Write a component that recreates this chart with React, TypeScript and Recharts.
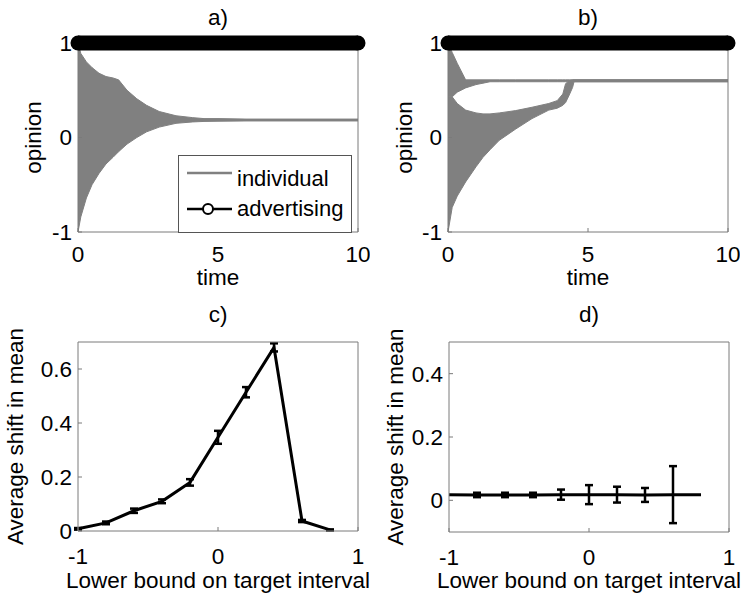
import React from 'react';
import { ComposedChart, Area, Line, XAxis, YAxis, ErrorBar, Legend } from 'recharts';

const FONT = '"Liberation Sans", Arial, Helvetica, sans-serif';
const BOX = '#7a7a7a';
const TRAJ = '#808080';
const FS = 22.5;

// a) envelope of the individual opinion trajectories
const timeA = [0, 0.1, 0.3, 0.5, 0.75, 1, 1.25, 1.45, 1.75, 2.1, 2.45, 2.9, 3.5, 4.1, 4.5, 5, 6, 10];
const upperA = [1, 0.89, 0.8, 0.74, 0.68, 0.645, 0.63, 0.61, 0.5, 0.41, 0.34, 0.275, 0.23, 0.21, 0.2, 0.2, 0.195, 0.195];
const lowerA = [-1, -0.84, -0.64, -0.5, -0.38, -0.28, -0.21, -0.15, -0.07, 0, 0.06, 0.11, 0.15, 0.165, 0.17, 0.172, 0.175, 0.175];

// b) two groups of individuals: one pulled to the advertising cluster at once, one later
const timeB = [0, 0.15, 0.33, 0.63, 1, 1.25, 1.5, 1.83, 2.42, 3, 3.6, 3.9, 4.1, 4.2, 4.33, 4.45, 4.5, 5, 6, 10];
const clusterHiB = [1, 0.9, 0.785, 0.61, 0.61, 0.61, 0.61, 0.61, 0.61, 0.61, 0.61, 0.61, 0.61, 0.61, 0.61, 0.61, 0.61, 0.61, 0.61, 0.61];
const clusterLoB = [0.43, 0.43, 0.48, 0.525, 0.56, 0.575, 0.59, 0.59, 0.59, 0.59, 0.59, 0.59, 0.59, 0.59, 0.59, 0.59, 0.59, 0.59, 0.59, 0.59];
const restHiB = [0.43, 0.43, 0.36, 0.29, 0.26, 0.25, 0.25, 0.26, 0.285, 0.32, 0.36, 0.39, 0.46, 0.57, 0.6, 0.61, 0.61, 0.61, 0.61, 0.61];
const restLoB = [-1, -0.74, -0.62, -0.47, -0.31, -0.21, -0.13, -0.03, 0.09, 0.2, 0.29, 0.31, 0.34, 0.37, 0.45, 0.53, 0.59, 0.59, 0.59, 0.59];

const advertisingLevel = 1;

// c) and d) shift in mean vs lower bound of target interval
const lowerBounds = [-1, -0.8, -0.6, -0.4, -0.2, 0, 0.2, 0.4, 0.6, 0.8];
const shiftC = [0.008, 0.03, 0.075, 0.11, 0.18, 0.347, 0.514, 0.68, 0.037, 0.004];
const errC = [0.003, 0.005, 0.008, 0.007, 0.012, 0.024, 0.019, 0.015, 0.004, 0.002];
const shiftD = [0.018, 0.017, 0.017, 0.017, 0.018, 0.018, 0.018, 0.017, 0.018, 0.018];
const errD = [0, 0.007, 0.007, 0.007, 0.016, 0.03, 0.025, 0.022, 0.09, 0];

const timeTicks = [0, 5, 10];
const opinionTicks = [-1, 0, 1];
const boundTicks = [-1, 0, 1];
const shiftTicksC = [0, 0.2, 0.4, 0.6];
const shiftTicksD = [0, 0.2, 0.4];

const dataA = timeA.map((t, i) => ({ t, band: [lowerA[i], upperA[i]], adv: advertisingLevel }));
const dataB = timeB.map((t, i) => ({
  t,
  cluster: [clusterLoB[i], clusterHiB[i]],
  rest: [restLoB[i], restHiB[i]],
  adv: advertisingLevel,
}));
const dataC = lowerBounds.map((x, i) => ({ x, y: shiftC[i], err: errC[i] }));
const dataD = lowerBounds.map((x, i) => ({ x, y: shiftD[i], err: errD[i] }));

const tickStyle = { fill: '#000', fontSize: FS, fontFamily: FONT };
const labelStyle = { fill: '#000', fontSize: FS, fontFamily: FONT };

const LegendA = () => (
  <svg width={175} height={79} style={{ display: 'block' }}>
    <rect x={0.5} y={0.5} width={173} height={77} fill="#fff" stroke="#555" />
    <line x1={9} x2={54} y1={18} y2={18} stroke={TRAJ} strokeWidth={2.5} />
    <text x={59} y={31} style={{ ...labelStyle, fontSize: 22 }}>individual</text>
    <line x1={9} x2={54} y1={54} y2={54} stroke="#000" strokeWidth={2.5} />
    <circle cx={30} cy={54} r={5} fill="#fff" stroke="#000" strokeWidth={2} />
    <text x={59} y={61} style={{ ...labelStyle, fontSize: 22 }}>advertising</text>
  </svg>
);

// the advertising markers overlap into a solid bar; only the end ones stick out
const endDot = (count: number) => (props: any) => {
  const { cx, cy, index } = props;
  if (index !== 0 && index !== count - 1) return <g key={`d${index}`} />;
  return <circle key={`d${index}`} cx={cx} cy={cy} r={7.5} fill="#000" />;
};

// MATLAB-like boxed axes: ticks pointing inwards, box on all four sides
function frame(opts: {
  xKey: string;
  xDomain: number[];
  xTicks: number[];
  yDomain: number[];
  yTicks: number[];
  yWidth: number;
  xHeight: number;
  xMargin: number;
  title: string;
  titleOffset: number;
  xLabel: string;
  xLabelOffset: number;
  yLabel: string;
  yLabelX: number;
  topLine: boolean;
}) {
  return [
    <XAxis
      key="xb"
      xAxisId="b"
      type="number"
      dataKey={opts.xKey}
      domain={opts.xDomain}
      ticks={opts.xTicks}
      interval={0}
      height={opts.xHeight}
      tickSize={-4}
      tickMargin={opts.xMargin}
      tick={tickStyle}
      axisLine={{ stroke: BOX }}
      tickLine={{ stroke: BOX }}
      label={{ value: opts.xLabel, position: 'insideBottom', offset: opts.xLabelOffset, style: labelStyle }}
    />,
    <XAxis
      key="xt"
      xAxisId="t"
      orientation="top"
      type="number"
      dataKey={opts.xKey}
      domain={opts.xDomain}
      ticks={opts.xTicks}
      interval={0}
      height={1}
      tickSize={-4}
      tick={false}
      axisLine={opts.topLine ? { stroke: BOX } : false}
      tickLine={opts.topLine ? { stroke: BOX } : false}
      allowDataOverflow
      label={{ value: opts.title, position: 'top', offset: opts.titleOffset, style: labelStyle }}
    />,
    <YAxis
      key="yl"
      yAxisId="l"
      type="number"
      domain={opts.yDomain}
      ticks={opts.yTicks}
      interval={0}
      width={opts.yWidth}
      tickSize={-4}
      tickMargin={10}
      tick={tickStyle}
      tickFormatter={(v: number) => String(v)}
      axisLine={{ stroke: BOX }}
      tickLine={{ stroke: BOX }}
      label={{ value: opts.yLabel, position: 'insideLeft', angle: -90, offset: opts.yLabelX, style: { ...labelStyle, textAnchor: 'middle' } }}
    />,
    <YAxis
      key="yr"
      yAxisId="r"
      orientation="right"
      type="number"
      domain={opts.yDomain}
      ticks={opts.yTicks}
      interval={0}
      width={1}
      tickSize={-4}
      tick={false}
      axisLine={{ stroke: BOX }}
      tickLine={{ stroke: BOX }}
      allowDataOverflow
    />,
  ];
}

export default function App() {
  return (
    <div style={{ position: 'absolute', left: 0, top: 0, width: 741, height: 597, background: '#fff', overflow: 'hidden' }}>
      <div style={{ position: 'absolute', left: 0, top: 0 }}>
        <ComposedChart width={370} height={290} data={dataA} margin={{ top: 42, right: 11, bottom: 0, left: 0 }}>
          {frame({
            xKey: 't', xDomain: [0, 10], xTicks: timeTicks, yDomain: [-1, 1], yTicks: opinionTicks,
            yWidth: 78, xHeight: 58, xMargin: 18, title: 'a)', titleOffset: 17,
            xLabel: 'time', xLabelOffset: 5, yLabel: 'opinion', yLabelX: 33, topLine: false,
          })}
          <Area xAxisId="b" yAxisId="l" type="linear" dataKey="band" name="individual"
            fill={TRAJ} fillOpacity={1} stroke={TRAJ} strokeWidth={1} dot={false} activeDot={false} isAnimationActive={false} />
          <Line xAxisId="b" yAxisId="l" type="linear" dataKey="adv" name="advertising" stroke="#000" strokeWidth={15}
            dot={endDot(dataA.length)} activeDot={false} isAnimationActive={false} />
          <Legend layout="vertical" align="center" verticalAlign="middle" content={() => <LegendA />}
            wrapperStyle={{ left: 178, top: 155, width: 175, height: 79 }} />
        </ComposedChart>
      </div>

      <div style={{ position: 'absolute', left: 380, top: 0 }}>
        <ComposedChart width={360} height={290} data={dataB} margin={{ top: 42, right: 11, bottom: 0, left: 0 }}>
          {frame({
            xKey: 't', xDomain: [0, 10], xTicks: timeTicks, yDomain: [-1, 1], yTicks: opinionTicks,
            yWidth: 68, xHeight: 58, xMargin: 18, title: 'b)', titleOffset: 17,
            xLabel: 'time', xLabelOffset: 5, yLabel: 'opinion', yLabelX: 24, topLine: false,
          })}
          <Area xAxisId="b" yAxisId="l" type="linear" dataKey="rest" fill={TRAJ} fillOpacity={1} stroke={TRAJ}
            strokeWidth={1} dot={false} activeDot={false} isAnimationActive={false} />
          <Area xAxisId="b" yAxisId="l" type="linear" dataKey="cluster" fill={TRAJ} fillOpacity={1} stroke={TRAJ}
            strokeWidth={1} dot={false} activeDot={false} isAnimationActive={false} />
          <Line xAxisId="b" yAxisId="l" type="linear" dataKey="adv" stroke="#000" strokeWidth={15}
            dot={endDot(dataB.length)} activeDot={false} isAnimationActive={false} />
        </ComposedChart>
      </div>

      <div style={{ position: 'absolute', left: 0, top: 300 }}>
        <ComposedChart width={370} height={297} data={dataC} margin={{ top: 41, right: 11, bottom: 0, left: 0 }}>
          {frame({
            xKey: 'x', xDomain: [-1, 1], xTicks: boundTicks, yDomain: [0, 0.7], yTicks: shiftTicksC,
            yWidth: 78, xHeight: 66, xMargin: 21, title: 'c)', titleOffset: 19,
            xLabel: 'Lower bound on target interval', xLabelOffset: 9, yLabel: 'Average shift in mean', yLabelX: 15, topLine: true,
          })}
          <Line xAxisId="b" yAxisId="l" type="linear" dataKey="y" stroke="#000" strokeWidth={3}
            dot={false} activeDot={false} isAnimationActive={false}>
            <ErrorBar dataKey="err" direction="y" width={4} stroke="#000" strokeWidth={2.5} />
          </Line>
        </ComposedChart>
      </div>

      <div style={{ position: 'absolute', left: 380, top: 300 }}>
        <ComposedChart width={361} height={297} data={dataD} margin={{ top: 41, right: 11, bottom: 0, left: 0 }}>
          {frame({
            xKey: 'x', xDomain: [-1, 1], xTicks: boundTicks, yDomain: [-0.1, 0.5], yTicks: shiftTicksD,
            yWidth: 69, xHeight: 65, xMargin: 21, title: 'd)', titleOffset: 19,
            xLabel: 'Lower bound on target interval', xLabelOffset: 9, yLabel: 'Average shift in mean', yLabelX: 15, topLine: true,
          })}
          <Line xAxisId="b" yAxisId="l" type="linear" dataKey="y" stroke="#000" strokeWidth={3}
            dot={false} activeDot={false} isAnimationActive={false}>
            <ErrorBar dataKey="err" direction="y" width={4} stroke="#000" strokeWidth={2.5} />
          </Line>
        </ComposedChart>
      </div>
    </div>
  );
}
